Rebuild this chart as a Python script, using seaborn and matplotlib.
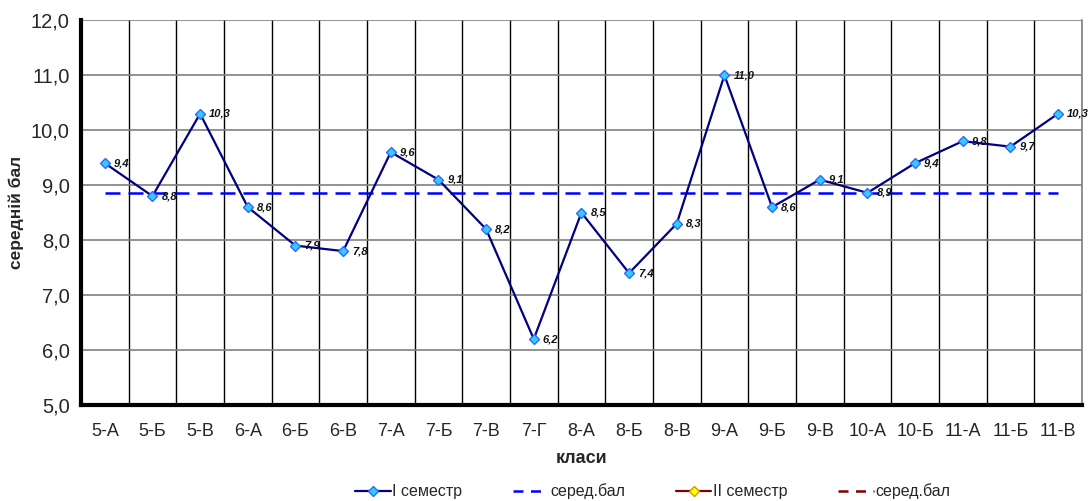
import numpy as np
import pandas as pd
import matplotlib
matplotlib.use('Agg')
import matplotlib.pyplot as plt
from matplotlib.lines import Line2D
from matplotlib.ticker import FuncFormatter
import seaborn as sns

# classes and semester I averages
classes = ['5-А', '5-Б', '5-В', '6-А', '6-Б', '6-В', '7-А', '7-Б', '7-В', '7-Г',
           '8-А', '8-Б', '8-В', '9-А', '9-Б', '9-В', '10-А', '10-Б', '11-А', '11-Б', '11-В']
sem1 = [9.4, 8.8, 10.3, 8.6, 7.9, 7.8, 9.6, 9.1, 8.2, 6.2,
        8.5, 7.4, 8.3, 11.0, 8.6, 9.1, 8.86, 9.4, 9.8, 9.7, 10.3]
sem1_mean = [8.85] * len(classes)

df = pd.DataFrame({'klas': classes, 'sem1': sem1, 'mean': sem1_mean})
df['pos'] = np.arange(len(df))

sns.set_style('white')
plt.rcParams['font.family'] = ['Liberation Sans', 'DejaVu Sans']

fig = plt.figure(figsize=(10.88, 5.01), dpi=100)
ax = fig.add_axes([0.0744, 0.1916, 0.920, 0.768])

sns.lineplot(data=df, x='pos', y='mean', ax=ax, color='#0000FF', lw=1.8,
             linestyle=(0, (6, 3.2)), zorder=3)
sns.lineplot(data=df, x='pos', y='sem1', ax=ax, color='#000080', lw=1.6,
             marker='D', markersize=5.5, markerfacecolor='#33CCFF',
             markeredgecolor='#3366FF', markeredgewidth=1.0, zorder=4)

for i, v in enumerate(sem1):
    ax.annotate(f'{v:.1f}'.replace('.', ','), (i, v), xytext=(6.5, 0),
                textcoords='offset points', va='center', ha='left',
                fontsize=8, fontweight='bold', fontstyle='italic', color='#111111', zorder=5)

ax.set_xlim(-0.5, len(classes) - 0.5)
ax.set_ylim(5, 12)
ax.set_yticks(np.arange(5, 12.1, 1))
ax.yaxis.set_major_formatter(FuncFormatter(lambda v, p: f'{v:.1f}'.replace('.', ',')))

ax.set_xticks(np.arange(len(classes)))
ax.set_xticklabels(classes)
ax.set_xticks(np.arange(-0.5, len(classes)), minor=True)
ax.tick_params(axis='x', which='major', length=0, pad=13, labelsize=13)
ax.tick_params(axis='x', which='minor', length=4, width=2.5, color='black')
ax.tick_params(axis='y', length=4, width=2.5, color='black', labelsize=14.5, pad=4)

ax.grid(axis='y', which='major', color='#808080', lw=1.2)
ax.grid(axis='x', which='minor', color='black', lw=1.0)
ax.set_axisbelow(True)

for s in ['left', 'bottom']:
    ax.spines[s].set_color('black')
    ax.spines[s].set_linewidth(3)
ax.spines['top'].set_visible(False)
ax.spines['right'].set_color('#808080')
ax.spines['right'].set_linewidth(1.2)

ax.set_xlabel('класи', fontsize=13, fontweight='bold', labelpad=7)
ax.set_ylabel('середній бал', fontsize=12.5, fontweight='bold', labelpad=5)

handles = [
    Line2D([], [], color='#000080', lw=1.6, marker='D', markersize=5,
           markerfacecolor='#33CCFF', markeredgecolor='#3366FF'),
    Line2D([], [], color='#0000FF', lw=1.8, linestyle=(0, (4, 3))),
    Line2D([], [], color='#800000', lw=1.6, marker='D', markersize=5,
           markerfacecolor='#FFFF00', markeredgecolor='#CC9900'),
    Line2D([], [], color='#800000', lw=1.8, linestyle=(0, (4, 3))),
]
labels = ['I семестр', 'серед.бал', 'II семестр', 'серед.бал']
fig.legend(handles, labels, loc='lower center', bbox_to_anchor=(0.6, -0.025), ncol=4,
           frameon=False, fontsize=11.5, handlelength=2.2, handletextpad=0.1,
           columnspacing=3.2)

fig.savefig('out.png', dpi=100)
